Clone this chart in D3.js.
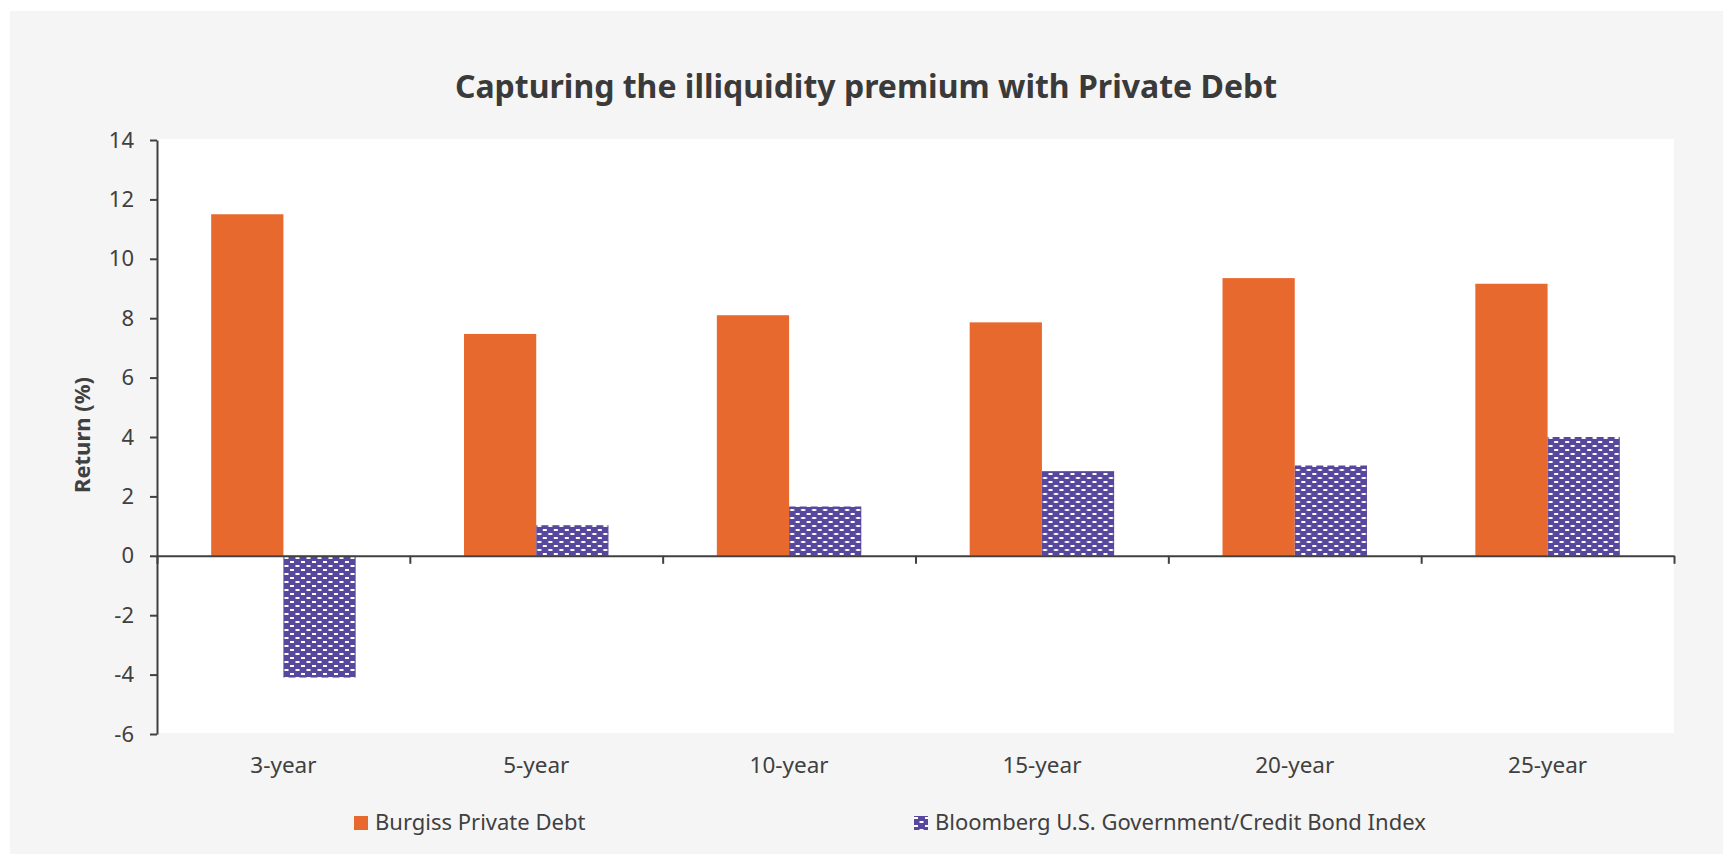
<!DOCTYPE html>
<html>
<head>
<meta charset="utf-8">
<script src="https://cdn.jsdelivr.net/npm/d3@7"></script>
<style>
  body { margin: 0; background: #ffffff; }
  text { font-family: "Noto Sans", sans-serif; fill: #404040; }
</style>
</head>
<body>
<div id="chart"></div>
<script>
var categories = ["3-year", "5-year", "10-year", "15-year", "20-year", "25-year"];
var privateDebt = [11.5, 7.47, 8.1, 7.86, 9.35, 9.16];
var bondIndex = [-4.1, 1.03, 1.66, 2.85, 3.04, 4.0];
var yTicks = [-6, -4, -2, 0, 2, 4, 6, 8, 10, 12, 14];
var seriesNames = ["Burgiss Private Debt", "Bloomberg U.S. Government/Credit Bond Index"];

var width = 1723, height = 854;
var plot = { left: 157, right: 1674, top: 140, bottom: 734 };

var svg = d3.select("#chart").append("svg")
  .attr("width", width).attr("height", height);

// brick-like dash pattern for the bond index bars
var defs = svg.append("defs");
var pat = defs.append("pattern").attr("id", "bond-pattern")
  .attr("patternUnits", "userSpaceOnUse").attr("width", 11).attr("height", 8);
pat.append("rect").attr("width", 11).attr("height", 8).attr("fill", "#57479d");
pat.append("rect").attr("x", 1).attr("y", 1).attr("width", 4).attr("height", 2).attr("fill", "#ffffff");
pat.append("rect").attr("x", 6.5).attr("y", 5).attr("width", 4).attr("height", 2).attr("fill", "#ffffff");

// background panels
svg.append("rect").attr("x", 10).attr("y", 11).attr("width", width - 10).attr("height", height - 11).attr("fill", "#f5f5f5");
svg.append("rect").attr("x", plot.left).attr("y", 139).attr("width", plot.right - plot.left).attr("height", 733 - 139).attr("fill", "#ffffff");

var y = d3.scaleLinear().domain([-6, 14]).range([plot.bottom, plot.top]);
var x0 = d3.scaleBand().domain(categories).range([plot.left, plot.right]);
var x1 = d3.scaleBand().domain(seriesNames).range([0, x0.bandwidth()]).paddingOuter(0.75);
var colors = ["#e8692d", "url(#bond-pattern)"];

// bars
var rows = categories.map(function (c, i) { return { cat: c, vals: [privateDebt[i], bondIndex[i]] }; });
var groups = svg.selectAll(".grp").data(rows).enter().append("g")
  .attr("class", "grp")
  .attr("transform", function (d) { return "translate(" + x0(d.cat) + ",0)"; });
groups.selectAll("rect")
  .data(function (d) { return d.vals.map(function (v, j) { return { s: seriesNames[j], v: v, j: j }; }); })
  .enter().append("rect")
  .attr("x", function (d) { return x1(d.s); })
  .attr("width", x1.bandwidth())
  .attr("y", function (d) { return y(Math.max(0, d.v)); })
  .attr("height", function (d) { return Math.abs(y(d.v) - y(0)); })
  .attr("fill", function (d) { return colors[d.j]; });

// y axis
var yAxis = svg.append("g").attr("transform", "translate(" + plot.left + ",0)")
  .call(d3.axisLeft(y).tickValues(yTicks).tickSize(7).tickSizeOuter(0).tickPadding(16)
    .tickFormat(function (d) { return String(d); }));
yAxis.selectAll("path, line").attr("stroke", "#404040").attr("stroke-width", 2);
yAxis.selectAll("text").attr("font-size", 22).attr("font-family", null).attr("fill", null);

// x axis at zero, ticks between categories
var xb = d3.scaleLinear().domain([0, categories.length]).range([plot.left, plot.right]);
var xAxis = svg.append("g").attr("transform", "translate(0," + y(0) + ")")
  .call(d3.axisBottom(xb).ticks(categories.length).tickFormat("").tickSize(8).tickSizeOuter(0));
xAxis.selectAll("path, line").attr("stroke", "#404040").attr("stroke-width", 2);

// category labels
svg.selectAll(".xlab").data(categories).enter().append("text")
  .attr("class", "xlab")
  .attr("x", function (d) { return x0(d) + x0.bandwidth() / 2; })
  .attr("y", 773)
  .attr("text-anchor", "middle")
  .attr("font-size", 22.5)
  .text(function (d) { return d; });

// title
svg.append("text").attr("x", 866).attr("y", 98).attr("text-anchor", "middle")
  .attr("font-size", 32).attr("font-weight", "bold").style("fill", "#3a3a3a")
  .text("Capturing the illiquidity premium with Private Debt");

// y title
svg.append("text").attr("transform", "translate(82,435) rotate(-90)")
  .attr("text-anchor", "middle").attr("dy", "0.35em")
  .attr("font-size", 22).attr("font-weight", "bold")
  .text("Return (%)");

// legend
var legX = [354, 914];
seriesNames.forEach(function (s, i) {
  svg.append("rect").attr("x", legX[i]).attr("y", 816).attr("width", 14).attr("height", 14).attr("fill", colors[i]);
  svg.append("text").attr("x", legX[i] + 21).attr("y", 830).attr("font-size", 22).text(s);
});
</script>
</body>
</html>
